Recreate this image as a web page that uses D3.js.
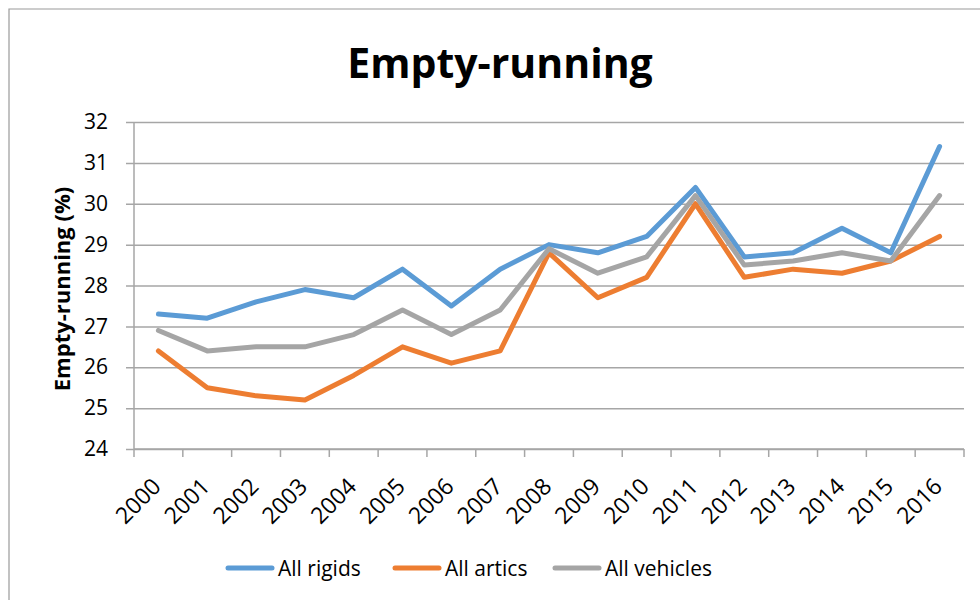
<!DOCTYPE html>
<html>
  <head>
    <title>Empty-running</title>
    <script src="https://cdn.jsdelivr.net/npm/d3@7"></script>
    <style>
      body { margin: 0; background: #fff; }
      svg { display: block; font-family: "Open Sans", sans-serif; }
    </style>
  </head>
  <body>
    <svg width="980" height="600" id="mainsvg"></svg>
    <script>
      const years = ["2000", "2001", "2002", "2003", "2004", "2005", "2006", "2007", "2008",
                     "2009", "2010", "2011", "2012", "2013", "2014", "2015", "2016"];
      const rigids = [27.3, 27.2, 27.6, 27.9, 27.7, 28.4, 27.5, 28.4, 29.0, 28.8, 29.2, 30.4, 28.7, 28.8, 29.4, 28.8, 31.4];
      const artics = [26.4, 25.5, 25.3, 25.2, 25.8, 26.5, 26.1, 26.4, 28.8, 27.7, 28.2, 30.0, 28.2, 28.4, 28.3, 28.6, 29.2];
      const vehicles = [26.9, 26.4, 26.5, 26.5, 26.8, 27.4, 26.8, 27.4, 28.9, 28.3, 28.7, 30.2, 28.5, 28.6, 28.8, 28.6, 30.2];
      const yTicks = [24, 25, 26, 27, 28, 29, 30, 31, 32];
      const seriesNames = ["All rigids", "All artics", "All vehicles"];
      const colors = ["#5B9BD5", "#ED7D31", "#A5A5A5"];

      const series = [rigids, artics, vehicles];

      const svg = d3.select("#mainsvg");
      const margin = { top: 122, left: 134, right: 16, bottom: 151 };
      const innerWidth = 980 - margin.left - margin.right;
      const innerHeight = 600 - margin.top - margin.bottom;

      // outer chart border: only left and top edges are visible in the frame
      svg.append("path")
        .attr("d", "M9,600V9H980")
        .attr("fill", "none")
        .attr("stroke", "#9a9a9a")
        .attr("stroke-width", 1.2);

      svg.append("text")
        .text("Empty-running")
        .attr("x", 500).attr("y", 78)
        .attr("text-anchor", "middle")
        .attr("font-size", 41)
        .attr("font-weight", "bold")
        .attr("fill", "#000");

      const g = svg.append("g")
        .attr("transform", `translate(${margin.left}, ${margin.top})`);

      const xScale = d3.scaleBand().domain(years).range([0, innerWidth]);
      const yScale = d3.scaleLinear().domain([24, 32]).range([innerHeight, 0]);

      // gridlines
      const yAxis = d3.axisLeft(yScale).tickValues(yTicks).tickSize(-innerWidth).tickPadding(26).tickSizeOuter(0);
      const yg = g.append("g").call(yAxis);
      yg.select(".domain").remove();
      yg.selectAll(".tick line").attr("stroke", "#a6a6a6").attr("stroke-width", 1.5).attr("x1", -8);
      yg.selectAll(".tick text").attr("font-size", 21).attr("font-family", "Open Sans").attr("fill", "#000");

      // left axis line
      g.append("line")
        .attr("x1", 0).attr("x2", 0).attr("y1", 0).attr("y2", innerHeight)
        .attr("stroke", "#a6a6a6").attr("stroke-width", 1.5);

      // bottom axis with ticks at band edges
      const xg = g.append("g").attr("transform", `translate(0, ${innerHeight})`);
      xg.append("line")
        .attr("x1", 0).attr("x2", innerWidth)
        .attr("stroke", "#a6a6a6").attr("stroke-width", 1.5);
      years.concat(["end"]).forEach((y, i) => {
        const x = i < years.length ? xScale(y) : innerWidth;
        xg.append("line")
          .attr("x1", x).attr("x2", x).attr("y1", 0).attr("y2", 8)
          .attr("stroke", "#a6a6a6").attr("stroke-width", 1.5);
      });
      years.forEach((y) => {
        const cx = xScale(y) + xScale.bandwidth() / 2 + 4;
        xg.append("text")
          .text(y)
          .attr("transform", `translate(${cx}, 39) rotate(-45)`)
          .attr("text-anchor", "end")
          .attr("font-size", 23)
          .attr("fill", "#000");
      });

      // y axis label
      svg.append("text")
        .text("Empty-running (%)")
        .attr("transform", `translate(70, ${margin.top + 167}) rotate(-90)`)
        .attr("text-anchor", "middle")
        .attr("font-size", 22)
        .attr("font-weight", "bold")
        .attr("fill", "#000");

      const line = d3.line()
        .x((d, i) => xScale(years[i]) + xScale.bandwidth() / 2)
        .y((d) => yScale(d));

      series.forEach((s, k) => {
        g.append("path")
          .datum(s)
          .attr("d", line)
          .attr("fill", "none")
          .attr("stroke", colors[k])
          .attr("stroke-width", 5)
          .attr("stroke-linejoin", "round")
          .attr("stroke-linecap", "round");
      });

      // legend
      const legendX = [228, 395, 555];
      const legend = svg.append("g").attr("transform", "translate(0, 568)");
      seriesNames.forEach((name, k) => {
        legend.append("line")
          .attr("x1", legendX[k]).attr("x2", legendX[k] + 44)
          .attr("stroke", colors[k]).attr("stroke-width", 5)
          .attr("stroke-linecap", "round");
        legend.append("text")
          .text(name)
          .attr("x", legendX[k] + 50).attr("y", 8)
          .attr("font-size", 21)
          .attr("fill", "#000");
      });
    </script>
  </body>
</html>
